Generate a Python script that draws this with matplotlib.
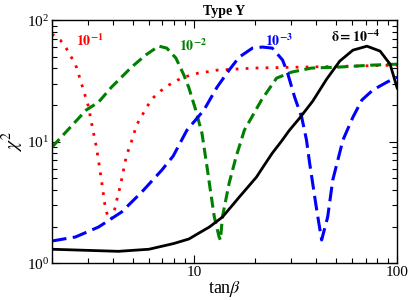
import numpy as np
import matplotlib.pyplot as plt
from matplotlib.ticker import LogLocator, LogFormatterMathtext, NullFormatter, FixedLocator, FixedFormatter

plt.rcParams['font.family'] = ['Liberation Serif', 'DejaVu Serif']
plt.rcParams['mathtext.fontset'] = 'stix'

# delta = 1e-1 (red, dotted)
x_r = [2.0, 2.2, 2.35, 2.49, 2.64, 2.82, 3.02, 3.16, 3.31, 3.43, 3.55, 3.67, 3.8, 3.88,
       4.02, 4.11, 4.35, 4.55, 4.66, 4.88, 5.22, 5.53, 5.85, 6.27, 6.85, 7.52, 8.3,
       9.3, 10.5, 11.7, 13.1, 20.0, 33.0, 60.0, 100.0]
y_r = [76.7, 68.4, 58.8, 49.6, 41.0, 28.6, 19.6, 13.2, 9.0, 6.17, 4.14, 2.78, 2.35, 2.26,
       2.48, 3.0, 4.38, 6.4, 7.74, 9.53, 13.7, 16.2, 19.2, 22.8, 26.1, 29.2, 32.1,
       34.6, 36.6, 37.6, 38.8, 40.3, 41.0, 41.8, 42.6]

# delta = 1e-2 (green, dashed)
x_g = [2.0, 2.95, 3.39, 3.93, 4.93, 5.78, 6.71, 7.35, 8.15, 8.92, 9.45, 10.2, 10.95,
       11.6, 12.1, 12.6, 13.3, 13.5, 13.8, 14.9, 16.1, 17.7, 21.5, 25.5, 30.2, 37.9,
       51.0, 75.2, 100.0]
y_g = [9.0, 18.2, 21.1, 28.1, 41.0, 51.5, 61.1, 58.8, 48.7, 35.3, 27.6, 18.2, 11.7,
       6.17, 3.77, 2.39, 1.64, 1.55, 2.39, 4.55, 7.45, 12.4, 22.0, 33.3, 37.3, 40.3,
       41.0, 42.6, 43.4]

# delta = 1e-3 (blue, long dashed)
x_b = [2.0, 2.61, 3.39, 4.4, 5.53, 6.95, 7.9, 9.23, 11.2, 13.0, 14.9, 16.7, 19.4, 21.7,
       24.3, 27.3, 28.9, 31.3, 33.9, 35.8, 37.1, 40.2, 42.5, 45.5, 48.2, 54.1, 60.6,
       67.1, 76.0, 89.2, 100.0]
y_b = [1.52, 1.64, 1.98, 2.63, 3.84, 5.83, 7.6, 12.4, 18.2, 28.1, 38.8, 49.6, 58.8, 60.0,
       58.8, 46.9, 36.6, 23.2, 15.9, 10.3, 6.64, 2.73, 1.55, 2.39, 4.82, 10.3, 15.9,
       22.0, 26.6, 30.9, 34.0]

# delta = 1e-4 (black, solid)
x_k = [2.0, 2.7, 4.25, 6.0, 7.96, 9.45, 10.6, 11.9, 13.8, 16.7, 20.3, 22.2, 24.3, 27.0,
       29.5, 33.1, 38.4, 45.0, 52.2, 60.6, 71.0, 82.4, 92.3, 100.0]
y_k = [1.30, 1.28, 1.25, 1.30, 1.45, 1.58, 1.77, 1.98, 2.39, 3.49, 5.10, 6.41, 8.04, 10.1,
       12.4, 15.6, 21.5, 32.7, 46.0, 56.6, 61.0, 55.6, 43.4, 27.6]

fig = plt.figure(figsize=(4.09, 3.0), dpi=100)
ax = fig.add_axes([0.127, 0.123, 0.844, 0.81])

ax.plot(x_r, y_r, color='red', lw=2.0, linestyle=(0, (1.0, 2.6)))
ax.plot(x_g, y_g, color='green', lw=2.2, linestyle=(0, (3.6, 1.8)))
ax.plot(x_b, y_b, color='blue', lw=2.2, linestyle=(0, (4.8, 2.1)))
ax.plot(x_k, y_k, color='black', lw=2.0)

ax.set_xscale('log')
ax.set_yscale('log')
ax.set_xlim(2, 100)
ax.set_ylim(1, 100)

ax.xaxis.set_major_locator(FixedLocator([10, 100]))
ax.xaxis.set_major_formatter(FixedFormatter(['10', '100']))
ax.xaxis.set_minor_locator(LogLocator(base=10, subs=np.arange(2, 10)))
ax.xaxis.set_minor_formatter(NullFormatter())
ax.yaxis.set_major_locator(LogLocator(base=10))
ax.yaxis.set_major_formatter(LogFormatterMathtext())
ax.yaxis.set_minor_locator(LogLocator(base=10, subs=np.arange(2, 10)))
ax.yaxis.set_minor_formatter(NullFormatter())

ax.tick_params(which='both', direction='in', top=True, right=True, labelsize=11, width=0.8)
ax.tick_params(which='major', length=6)
ax.tick_params(which='minor', length=3.5)
ax.tick_params(axis='x', pad=2)
ax.tick_params(axis='y', pad=2)
for s in ax.spines.values():
    s.set_linewidth(1.0)

ax.set_xlabel(r'tan$\beta$', fontsize=13, labelpad=0)
ax.set_ylabel(r'$\chi^2$', fontsize=14, labelpad=1)
ax.set_title('Type Y', fontsize=10, fontweight='bold', pad=4)

ax.text(3.06, 68, r'$\mathbf{10^{-1}}$', color='red', fontsize=10, ha='center', va='center')
ax.text(9.9, 62, r'$\mathbf{10^{-2}}$', color='green', fontsize=10, ha='center', va='center')
ax.text(26.3, 68, r'$\mathbf{10^{-3}}$', color='blue', fontsize=10, ha='center', va='center')
ax.text(62.7, 73, r'$\mathbf{\delta = 10^{-4}}$', color='black', fontsize=10, ha='center', va='center')

fig.savefig('out.png', dpi=100)
